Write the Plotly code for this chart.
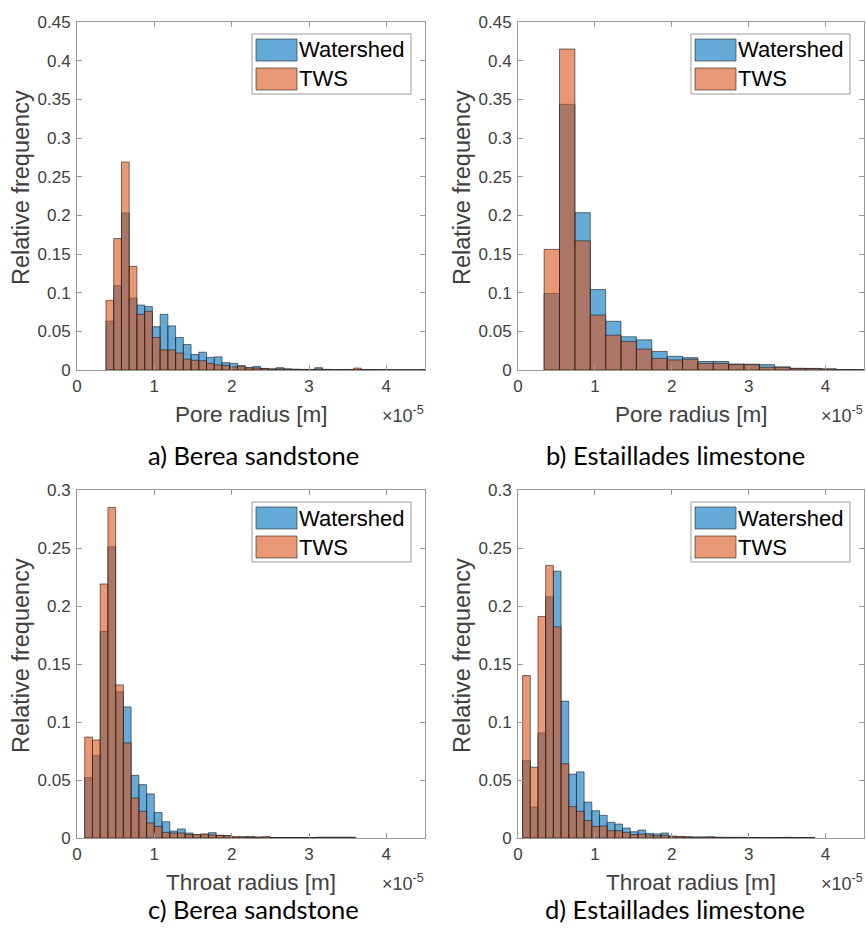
import plotly.graph_objects as go

W, H = 866, 934

# ---------------- data (x in units of 1e-5 m) ----------------
# a) Berea sandstone, pore radius
pore_berea_bin_start = 0.375
pore_berea_bin_width = 0.1
pore_berea_watershed = [0.063, 0.109, 0.203, 0.093, 0.084, 0.082, 0.056, 0.072, 0.057, 0.042,
                        0.033, 0.020, 0.023, 0.0164, 0.017, 0.0095, 0.0086, 0.0056, 0.003, 0.0047,
                        0.002, 0.0015, 0.003, 0.0015, 0.001, 0.0008, 0.0008, 0.003, 0.0008, 0.0005,
                        0.0005, 0.0004, 0.0006, 0.0004, 0.0005, 0.0003, 0.0002, 0.0002, 0.0002, 0.0002,
                        0.0002, 0.0005]
pore_berea_tws = [0.090, 0.170, 0.269, 0.134, 0.072, 0.076, 0.042, 0.026, 0.026, 0.022,
                  0.014, 0.0125, 0.012, 0.0086, 0.0065, 0.006, 0.004, 0.005, 0.003, 0.0026,
                  0.002, 0.0012, 0.0015, 0.001, 0.0008, 0.0006, 0.0006, 0.001, 0.0005, 0.0005,
                  0.0004, 0.0006, 0.0025, 0.0006, 0.0004, 0.0003, 0.0002, 0.0002, 0.0002, 0.0002,
                  0.0002, 0.0005]

# b) Estaillades limestone, pore radius
pore_estaillades_bin_start = 0.34
pore_estaillades_bin_width = 0.2
pore_estaillades_watershed = [0.099, 0.3435, 0.2035, 0.104, 0.063, 0.043, 0.039, 0.024, 0.0177, 0.016,
                              0.011, 0.011, 0.0078, 0.0075, 0.007, 0.004, 0.0022, 0.002, 0.0015, 0.0005,
                              0.0003]
pore_estaillades_tws = [0.156, 0.415, 0.167, 0.071, 0.045, 0.037, 0.027, 0.015, 0.013, 0.014,
                        0.0086, 0.0086, 0.007, 0.007, 0.0035, 0.0035, 0.002, 0.002, 0.0012, 0.0005,
                        0.0003]

# c) Berea sandstone, throat radius
throat_berea_bin_start = 0.1
throat_berea_bin_width = 0.1
throat_berea_watershed = [0.052, 0.071, 0.178, 0.251, 0.126, 0.113, 0.054, 0.046, 0.038, 0.022,
                          0.014, 0.006, 0.0078, 0.0043, 0.003, 0.003, 0.0046, 0.0023, 0.002, 0.001,
                          0.001, 0.0012, 0.0008, 0.0006, 0.0004, 0.0004, 0.0004, 0.0004, 0.0004, 0.0004,
                          0.0006, 0.0006, 0.0006, 0.0006, 0.0006]
throat_berea_tws = [0.087, 0.0845, 0.219, 0.285, 0.132, 0.082, 0.0345, 0.023, 0.013, 0.010,
                    0.0048, 0.0043, 0.0043, 0.003, 0.003, 0.0035, 0.0026, 0.0023, 0.002, 0.001,
                    0.001, 0.0008, 0.0006, 0.0012, 0.0004, 0.0004, 0.0004, 0.0004, 0.0004, 0.0004,
                    0.0006, 0.0006, 0.0006, 0.0006, 0.0006]

# d) Estaillades limestone, throat radius
throat_estaillades_bin_start = 0.06
throat_estaillades_bin_width = 0.1
throat_estaillades_watershed = [0.0666, 0.0267, 0.0905, 0.208, 0.230, 0.118, 0.055, 0.057, 0.031, 0.0235,
                                0.0195, 0.0135, 0.012, 0.0086, 0.0054, 0.0069, 0.004, 0.0035, 0.0043, 0.0015,
                                0.0012, 0.001, 0.0008, 0.0008, 0.001, 0.0006, 0.0005, 0.0005, 0.0005, 0.0004,
                                0.0004, 0.0003, 0.0003, 0.0004, 0.0006, 0.0003, 0.0004, 0.0005]
throat_estaillades_tws = [0.140, 0.061, 0.191, 0.235, 0.182, 0.064, 0.027, 0.023, 0.015, 0.010,
                          0.0103, 0.0063, 0.0063, 0.0049, 0.003, 0.0034, 0.0026, 0.002, 0.0023, 0.0015,
                          0.0012, 0.001, 0.0008, 0.0008, 0.0008, 0.0006, 0.0005, 0.0005, 0.0005, 0.0004,
                          0.0004, 0.0003, 0.0003, 0.0004, 0.0004, 0.0003, 0.0004, 0.0004]

series_names = ["Watershed", "TWS"]
x_tick_values = [0, 1, 2, 3, 4]
x_tick_labels = ["0", "1", "2", "3", "4"]
y_ticks_top = [0, 0.05, 0.1, 0.15, 0.2, 0.25, 0.3, 0.35, 0.4, 0.45]
y_ticks_bottom = [0, 0.05, 0.1, 0.15, 0.2, 0.25, 0.3]
panel_titles = ["a) Berea sandstone", "b) Estaillades limestone",
                "c) Berea sandstone", "d) Estaillades limestone"]
x_titles = ["Pore radius [m]", "Pore radius [m]", "Throat radius [m]", "Throat radius [m]"]
y_title = "Relative frequency"

# ---------------- styling ----------------
BLUE = "rgba(0,114,189,0.6)"
ORANGE = "rgba(217,83,25,0.6)"
EDGE = "rgba(30,30,30,0.75)"
AXC = "#9a9a9a"
TXC = "#404040"
FONT = "Liberation Sans, Arial, sans-serif"
TFONT = "Lato, sans-serif"


def px(x):
    return x / W


def py(y):
    return 1 - y / H


panels = [
    dict(start=pore_berea_bin_start, width=pore_berea_bin_width,
         w=pore_berea_watershed, t=pore_berea_tws, box=(77, 425, 22, 370),
         yr=0.45, yt=y_ticks_top, title_cx=253, title_dy=85),
    dict(start=pore_estaillades_bin_start, width=pore_estaillades_bin_width,
         w=pore_estaillades_watershed, t=pore_estaillades_tws, box=(518, 864, 22, 370),
         yr=0.45, yt=y_ticks_top, title_cx=675, title_dy=85),
    dict(start=throat_berea_bin_start, width=throat_berea_bin_width,
         w=throat_berea_watershed, t=throat_berea_tws, box=(77, 425, 490, 838),
         yr=0.3, yt=y_ticks_bottom, title_cx=253, title_dy=71),
    dict(start=throat_estaillades_bin_start, width=throat_estaillades_bin_width,
         w=throat_estaillades_watershed, t=throat_estaillades_tws, box=(518, 864, 490, 838),
         yr=0.3, yt=y_ticks_bottom, title_cx=675, title_dy=71),
]

fig = go.Figure()
shapes = []
annotations = []

for i, p in enumerate(panels):
    n = i + 1
    xa = "x" if n == 1 else f"x{n}"
    ya = "y" if n == 1 else f"y{n}"
    centers = [p["start"] + p["width"] * (k + 0.5) for k in range(len(p["w"]))]
    for vals, col, name in ((p["w"], BLUE, series_names[0]), (p["t"], ORANGE, series_names[1])):
        fig.add_trace(go.Bar(
            x=centers[:len(vals)], y=vals, width=p["width"], name=name,
            marker=dict(color=col, line=dict(color=EDGE, width=0.8)),
            xaxis=xa, yaxis=ya, showlegend=False,
        ))
    x0, x1, y0, y1 = p["box"]
    axis_common = dict(showline=True, linecolor=AXC, linewidth=1, mirror="ticks",
                       ticks="inside", ticklen=5, tickcolor=AXC, tickwidth=1,
                       showgrid=False, zeroline=False, automargin=False,
                       tickfont=dict(family=FONT, size=17, color=TXC))
    fig.layout[f"xaxis{'' if n == 1 else n}"] = dict(
        domain=[px(x0), px(x1)], anchor=ya, range=[0, 4.5],
        tickvals=x_tick_values, ticktext=x_tick_labels, ticklabelstandoff=1,
        **axis_common)
    fig.layout[f"yaxis{'' if n == 1 else n}"] = dict(
        domain=[py(y1), py(y0)], anchor=xa, range=[0, p["yr"]],
        tickvals=p["yt"], ticktext=[("%g" % v) for v in p["yt"]], ticklabelstandoff=2,
        **axis_common)

    # axis titles
    annotations.append(dict(text=x_titles[i], x=px((x0 + x1) / 2), y=py(y1 + 44),
                            xref="paper", yref="paper", showarrow=False,
                            font=dict(family=FONT, size=22.5, color=TXC),
                            xanchor="center", yanchor="middle"))
    annotations.append(dict(text="\u00d710<sup>-5</sup>", x=px(x1 + 1), y=py(y1 + 44),
                            xref="paper", yref="paper", showarrow=False,
                            font=dict(family=FONT, size=18, color=TXC),
                            xanchor="right", yanchor="middle"))
    annotations.append(dict(text=y_title, x=px(x0 - 56), y=py((y0 + y1) / 2 - 8),
                            xref="paper", yref="paper", showarrow=False, textangle=-90,
                            font=dict(family=FONT, size=23.5, color=TXC),
                            xanchor="center", yanchor="middle"))
    # panel title
    annotations.append(dict(text=panel_titles[i], x=px(p["title_cx"]), y=py(y1 + p["title_dy"]),
                            xref="paper", yref="paper", showarrow=False,
                            font=dict(family=TFONT, size=25.5, color="#000000"),
                            xanchor="center", yanchor="middle"))

    # legend box (drawn)
    lx0, lx1 = x1 - 173, x1 - 14
    ly0, ly1 = y0 + 12, y0 + 72
    shapes.append(dict(type="rect", xref="paper", yref="paper",
                       x0=px(lx0), x1=px(lx1), y0=py(ly1), y1=py(ly0),
                       line=dict(color=AXC, width=1), fillcolor="white", layer="above"))
    for j, (col, name) in enumerate(((BLUE, series_names[0]), (ORANGE, series_names[1]))):
        sy0 = ly0 + 5 + j * 29
        shapes.append(dict(type="rect", xref="paper", yref="paper",
                           x0=px(lx0 + 4), x1=px(lx0 + 45), y0=py(sy0 + 22), y1=py(sy0),
                           line=dict(color=EDGE, width=0.8), fillcolor=col, layer="above"))
        annotations.append(dict(text=name, x=px(lx0 + 45), y=py(sy0 + 11),
                                xref="paper", yref="paper", showarrow=False,
                                font=dict(family=FONT, size=22, color="#000000"),
                                xanchor="left", yanchor="middle"))

fig.update_layout(
    width=W, height=H, margin=dict(l=0, r=0, t=0, b=0, autoexpand=False),
    barmode="overlay", plot_bgcolor="white", paper_bgcolor="white",
    shapes=shapes, annotations=annotations, showlegend=False,
)

fig.write_html("out.html")
